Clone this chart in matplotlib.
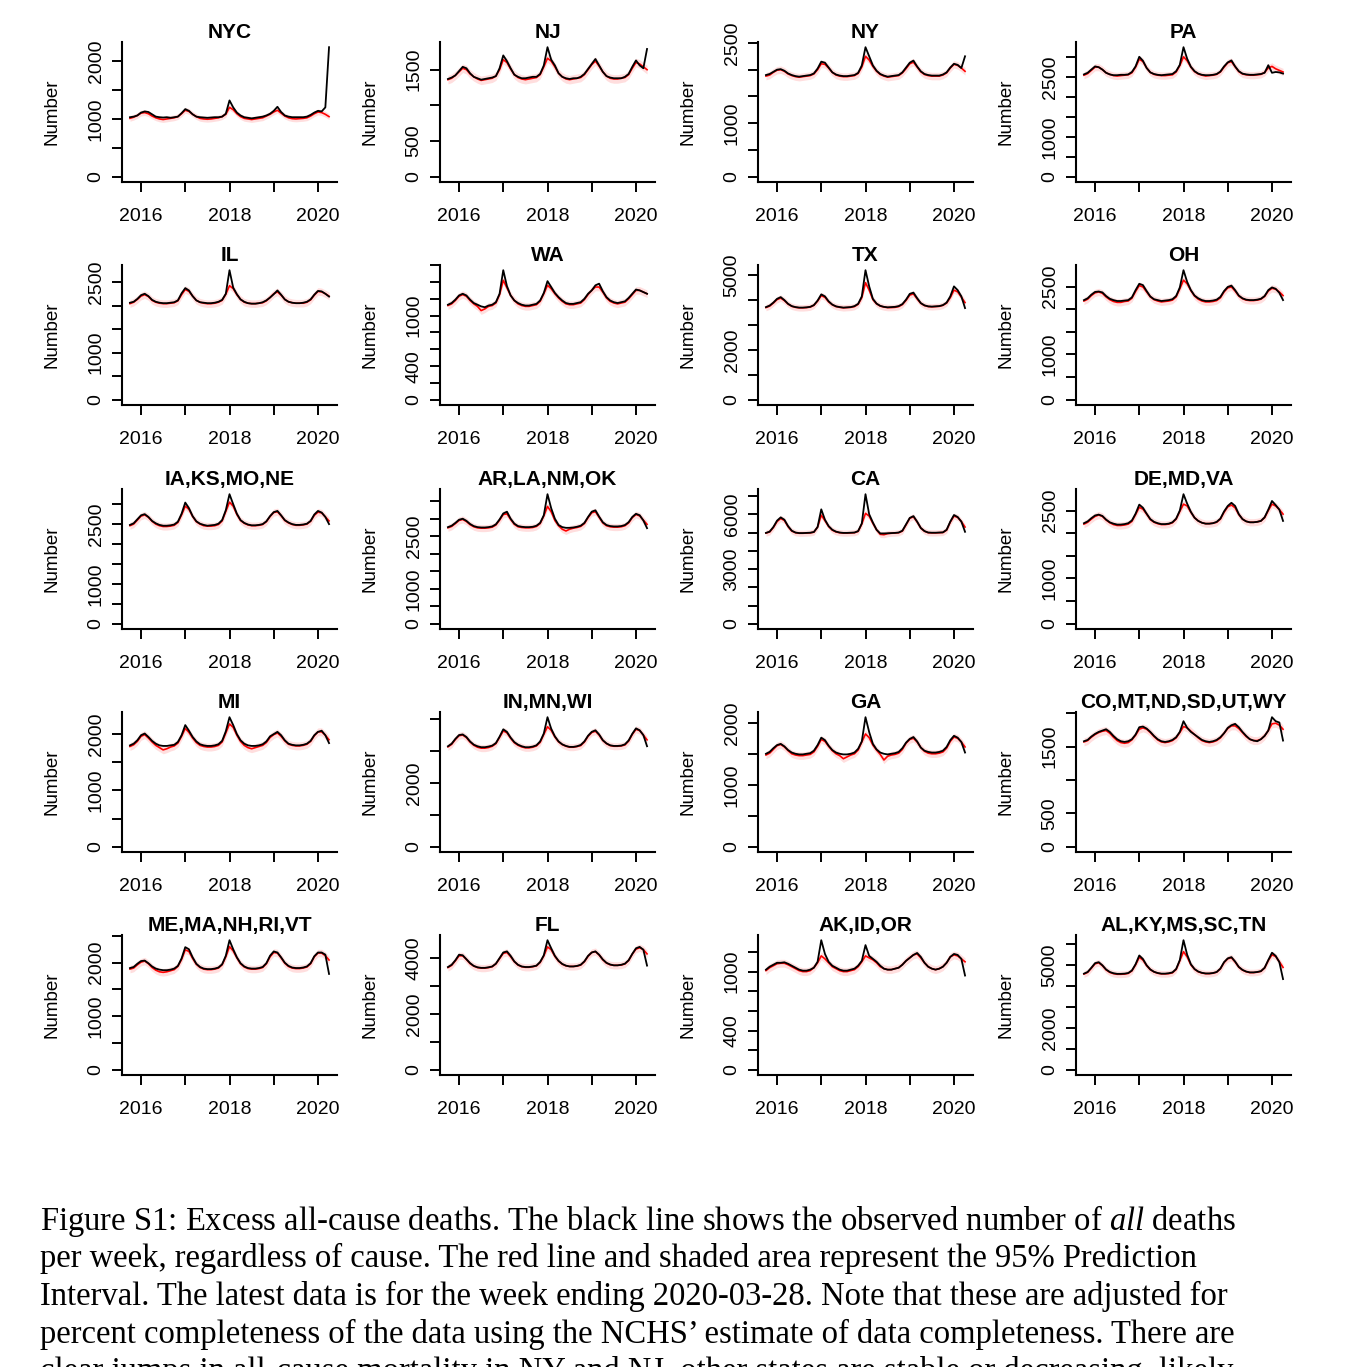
import matplotlib
matplotlib.use("Agg")
import matplotlib.pyplot as plt
import numpy as np
import pandas as pd

plt.rcParams['font.family'] = ['Liberation Sans', 'DejaVu Sans']
plt.rcParams['mathtext.fontset'] = 'custom'
plt.rcParams['mathtext.rm'] = 'Liberation Serif'
plt.rcParams['mathtext.it'] = 'Liberation Serif:italic'

# monthly points, Oct 2015 -> Apr 2020 (last = week ending 2020-03-28)
months = pd.date_range('2015-10-01', periods=55, freq='MS')
t = np.asarray(months.year + (months.month - 1) / 12.0)

# observed (black) and expected (red) deaths per week
nyc_obs = [1030, 1040, 1060, 1110, 1130, 1120, 1080, 1040, 1030, 1025, 1030, 1020,
           1030, 1040, 1100, 1170, 1140, 1080, 1040, 1030, 1025, 1020, 1025, 1030,
           1030, 1040, 1090, 1320, 1200, 1110, 1060, 1030, 1020, 1010, 1020, 1030,
           1040, 1060, 1090, 1140, 1210, 1120, 1060, 1040, 1030, 1030, 1030, 1030,
           1040, 1070, 1110, 1140, 1130, 1200, 2240]
nyc_exp = [1010, 1030, 1060, 1100, 1110, 1090, 1050, 1020, 1000, 990, 1000, 1010,
           1020, 1040, 1090, 1150, 1130, 1080, 1040, 1010, 1000, 995, 1000, 1010,
           1020, 1040, 1080, 1200, 1160, 1090, 1040, 1010, 1000, 990, 1000, 1010,
           1020, 1050, 1080, 1120, 1150, 1100, 1050, 1020, 1005, 1000, 1005, 1010,
           1020, 1050, 1090, 1120, 1110, 1080, 1040]

nj_obs = [1370, 1390, 1420, 1480, 1540, 1520, 1450, 1400, 1380, 1360, 1370, 1380,
          1390, 1410, 1520, 1700, 1620, 1520, 1430, 1400, 1380, 1380, 1390, 1400,
          1400, 1440, 1560, 1815, 1640, 1560, 1450, 1400, 1380, 1370, 1380, 1380,
          1400, 1440, 1510, 1580, 1650, 1560, 1470, 1410, 1390, 1380, 1380, 1380,
          1400, 1440, 1540, 1630, 1560, 1520, 1790]
nj_exp = [1360, 1380, 1420, 1470, 1520, 1500, 1440, 1400, 1370, 1350, 1360, 1370,
          1380, 1410, 1500, 1640, 1600, 1510, 1430, 1390, 1370, 1360, 1370, 1380,
          1390, 1430, 1540, 1660, 1620, 1540, 1450, 1400, 1370, 1360, 1370, 1380,
          1390, 1430, 1500, 1570, 1620, 1550, 1470, 1410, 1380, 1370, 1370, 1380,
          1390, 1430, 1520, 1600, 1580, 1540, 1500]

ny_obs = [1900, 1920, 1960, 2000, 2010, 1980, 1930, 1900, 1880, 1870, 1880, 1890,
          1900, 1930, 2020, 2150, 2130, 2040, 1950, 1910, 1890, 1880, 1880, 1890,
          1900, 1940, 2080, 2420, 2250, 2080, 1980, 1920, 1890, 1870, 1880, 1890,
          1900, 1950, 2040, 2130, 2170, 2060, 1970, 1920, 1900, 1890, 1890, 1890,
          1910, 1950, 2040, 2110, 2090, 2030, 2250]
ny_exp = [1880, 1900, 1950, 1990, 2000, 1970, 1920, 1890, 1870, 1860, 1870, 1880,
          1890, 1920, 2000, 2110, 2100, 2030, 1950, 1900, 1880, 1870, 1870, 1880,
          1890, 1930, 2050, 2250, 2180, 2060, 1970, 1910, 1880, 1860, 1870, 1880,
          1890, 1940, 2020, 2110, 2140, 2050, 1960, 1910, 1890, 1880, 1880, 1880,
          1900, 1940, 2030, 2100, 2080, 2030, 1970]

pa_obs = [2560, 2600, 2680, 2760, 2740, 2680, 2600, 2560, 2540, 2540, 2550, 2550,
          2560, 2620, 2760, 3000, 2900, 2720, 2610, 2570, 2550, 2540, 2550, 2560,
          2570, 2640, 2800, 3240, 2950, 2750, 2640, 2580, 2550, 2540, 2540, 2550,
          2570, 2630, 2760, 2860, 2910, 2760, 2640, 2580, 2560, 2550, 2550, 2560,
          2570, 2600, 2790, 2600, 2620, 2610, 2580]
pa_exp = [2540, 2580, 2660, 2740, 2740, 2680, 2600, 2560, 2530, 2520, 2530, 2540,
          2550, 2600, 2740, 2940, 2880, 2720, 2610, 2560, 2540, 2530, 2530, 2540,
          2550, 2620, 2780, 3000, 2900, 2740, 2630, 2570, 2540, 2520, 2530, 2540,
          2560, 2620, 2740, 2850, 2880, 2750, 2630, 2570, 2550, 2540, 2540, 2550,
          2560, 2610, 2720, 2760, 2700, 2660, 2620]

il_obs = [2060, 2080, 2140, 2220, 2250, 2200, 2120, 2080, 2060, 2050, 2050, 2060,
          2070, 2110, 2260, 2370, 2320, 2200, 2110, 2070, 2060, 2050, 2050, 2060,
          2080, 2120, 2250, 2750, 2380, 2240, 2130, 2080, 2050, 2040, 2040, 2050,
          2070, 2110, 2170, 2240, 2320, 2230, 2130, 2080, 2060, 2050, 2050, 2060,
          2080, 2130, 2230, 2310, 2300, 2250, 2190]
il_exp = [2040, 2070, 2130, 2200, 2230, 2190, 2110, 2070, 2050, 2040, 2040, 2050,
          2060, 2100, 2230, 2340, 2300, 2200, 2110, 2070, 2050, 2040, 2040, 2050,
          2070, 2110, 2240, 2420, 2360, 2230, 2130, 2070, 2050, 2040, 2040, 2050,
          2060, 2100, 2170, 2250, 2290, 2220, 2130, 2080, 2060, 2050, 2050, 2050,
          2070, 2120, 2220, 2300, 2290, 2250, 2200]

wa_obs = [1130, 1150, 1190, 1240, 1260, 1240, 1190, 1150, 1130, 1110, 1100, 1120,
          1130, 1160, 1260, 1540, 1350, 1240, 1180, 1150, 1130, 1120, 1120, 1130,
          1140, 1180, 1270, 1410, 1340, 1270, 1220, 1180, 1150, 1140, 1140, 1150,
          1160, 1200, 1260, 1300, 1360, 1380, 1290, 1220, 1180, 1160, 1150, 1160,
          1170, 1210, 1260, 1310, 1300, 1280, 1260]
wa_exp = [1120, 1140, 1180, 1230, 1250, 1230, 1180, 1140, 1110, 1060, 1080, 1110,
          1120, 1150, 1250, 1420, 1330, 1240, 1180, 1140, 1120, 1110, 1110, 1120,
          1130, 1170, 1260, 1360, 1320, 1260, 1210, 1170, 1140, 1130, 1130, 1140,
          1150, 1190, 1250, 1300, 1340, 1340, 1280, 1210, 1170, 1150, 1140, 1150,
          1160, 1200, 1250, 1300, 1300, 1280, 1260]

tx_obs = [3720, 3780, 3900, 4050, 4120, 4000, 3850, 3760, 3720, 3700, 3700, 3710,
          3730, 3800, 3980, 4230, 4150, 3950, 3820, 3750, 3720, 3700, 3710, 3720,
          3760, 3850, 4150, 5200, 4550, 4050, 3860, 3770, 3730, 3710, 3720, 3730,
          3760, 3840, 4020, 4250, 4300, 4080, 3880, 3790, 3750, 3740, 3750, 3760,
          3800, 3900, 4150, 4550, 4400, 4150, 3680]
tx_exp = [3700, 3760, 3880, 4020, 4080, 3980, 3840, 3750, 3710, 3690, 3690, 3700,
          3720, 3790, 3960, 4180, 4110, 3930, 3810, 3740, 3710, 3690, 3700, 3710,
          3740, 3830, 4100, 4700, 4400, 4020, 3850, 3760, 3720, 3700, 3700, 3710,
          3740, 3820, 3990, 4200, 4250, 4050, 3870, 3780, 3740, 3730, 3740, 3750,
          3790, 3880, 4100, 4400, 4330, 4120, 3900]

oh_obs = [2200, 2240, 2320, 2380, 2390, 2370, 2290, 2230, 2200, 2180, 2180, 2190,
          2200, 2260, 2420, 2560, 2530, 2400, 2280, 2220, 2200, 2180, 2190, 2200,
          2220, 2290, 2480, 2860, 2600, 2420, 2300, 2240, 2200, 2180, 2180, 2190,
          2210, 2270, 2400, 2490, 2520, 2420, 2300, 2240, 2210, 2200, 2200, 2210,
          2230, 2290, 2420, 2480, 2450, 2360, 2200]
oh_exp = [2180, 2220, 2300, 2360, 2380, 2350, 2270, 2210, 2170, 2150, 2150, 2170,
          2180, 2240, 2390, 2520, 2490, 2380, 2270, 2210, 2180, 2160, 2170, 2180,
          2200, 2270, 2450, 2640, 2560, 2410, 2290, 2220, 2180, 2160, 2160, 2170,
          2190, 2250, 2380, 2470, 2490, 2400, 2290, 2230, 2200, 2190, 2190, 2200,
          2220, 2280, 2400, 2460, 2440, 2380, 2300]

ia_obs = [2480, 2520, 2620, 2720, 2750, 2680, 2580, 2520, 2480, 2460, 2460, 2470,
          2490, 2560, 2760, 3040, 2900, 2700, 2570, 2510, 2480, 2460, 2470, 2480,
          2510, 2600, 2850, 3250, 3000, 2760, 2600, 2530, 2490, 2470, 2470, 2480,
          2500, 2570, 2700, 2800, 2830, 2720, 2600, 2540, 2500, 2480, 2480, 2490,
          2510, 2580, 2740, 2830, 2790, 2680, 2500]
ia_exp = [2460, 2500, 2600, 2700, 2730, 2670, 2570, 2500, 2460, 2440, 2440, 2450,
          2470, 2540, 2730, 2950, 2870, 2690, 2560, 2500, 2460, 2450, 2450, 2460,
          2490, 2580, 2820, 3050, 2950, 2740, 2590, 2520, 2480, 2460, 2460, 2470,
          2490, 2560, 2690, 2790, 2810, 2710, 2590, 2530, 2490, 2470, 2470, 2480,
          2500, 2570, 2720, 2800, 2780, 2680, 2580]

ar_obs = [2760, 2800, 2880, 2970, 3000, 2940, 2850, 2790, 2760, 2750, 2750, 2760,
          2780, 2840, 2980, 3150, 3200, 3000, 2860, 2790, 2770, 2760, 2760, 2770,
          2800, 2880, 3100, 3700, 3300, 3000, 2820, 2760, 2740, 2740, 2750, 2770,
          2800, 2880, 3050, 3200, 3240, 3060, 2900, 2820, 2790, 2780, 2780, 2790,
          2820, 2900, 3050, 3140, 3100, 2950, 2730]
ar_exp = [2740, 2780, 2860, 2950, 2980, 2920, 2830, 2770, 2740, 2730, 2730, 2740,
          2760, 2820, 2960, 3120, 3140, 2980, 2840, 2770, 2750, 2740, 2740, 2750,
          2780, 2860, 3080, 3350, 3200, 2950, 2800, 2700, 2650, 2700, 2730, 2750,
          2780, 2860, 3030, 3170, 3200, 3040, 2880, 2800, 2770, 2760, 2760, 2770,
          2800, 2880, 3030, 3120, 3080, 2960, 2840]

ca_obs = [4980, 5050, 5300, 5650, 5830, 5700, 5350, 5100, 5000, 4970, 4970, 4980,
          4990, 5030, 5300, 6270, 5700, 5350, 5150, 5050, 5000, 4980, 4980, 4990,
          5000, 5080, 5500, 7100, 6000, 5550, 5150, 4950, 4950, 4960, 4970, 4980,
          5000, 5100, 5450, 5800, 5900, 5600, 5250, 5080, 5000, 4990, 4990, 5000,
          5010, 5150, 5600, 5960, 5850, 5600, 5040]
ca_exp = [4970, 5030, 5270, 5600, 5770, 5660, 5320, 5080, 4990, 4960, 4960, 4970,
          4980, 5020, 5300, 5950, 5650, 5330, 5130, 5030, 4990, 4970, 4970, 4980,
          4990, 5060, 5470, 6050, 5900, 5500, 5150, 4900, 4880, 4940, 4960, 4970,
          4990, 5080, 5420, 5780, 5860, 5580, 5240, 5070, 4990, 4980, 4980, 4990,
          5000, 5130, 5570, 5900, 5830, 5600, 5300]

de_obs = [2220, 2260, 2330, 2390, 2410, 2380, 2300, 2240, 2210, 2190, 2190, 2200,
          2220, 2280, 2430, 2630, 2560, 2430, 2310, 2250, 2220, 2200, 2200, 2210,
          2240, 2320, 2500, 2860, 2650, 2470, 2340, 2270, 2230, 2210, 2210, 2220,
          2250, 2320, 2480, 2600, 2670, 2600, 2420, 2310, 2260, 2240, 2240, 2250,
          2270, 2350, 2520, 2710, 2620, 2520, 2270]
de_exp = [2200, 2240, 2310, 2370, 2400, 2370, 2290, 2230, 2190, 2170, 2170, 2180,
          2200, 2260, 2410, 2570, 2530, 2420, 2300, 2240, 2210, 2190, 2190, 2200,
          2230, 2310, 2480, 2640, 2600, 2460, 2340, 2270, 2230, 2210, 2210, 2220,
          2240, 2310, 2460, 2580, 2620, 2560, 2410, 2310, 2260, 2240, 2240, 2250,
          2270, 2340, 2500, 2640, 2600, 2520, 2420]

mi_obs = [1800, 1830, 1890, 1980, 2010, 1950, 1880, 1830, 1800, 1790, 1790, 1800,
          1810, 1860, 1980, 2160, 2060, 1950, 1870, 1820, 1800, 1790, 1790, 1800,
          1820, 1880, 2050, 2300, 2160, 2000, 1890, 1830, 1800, 1790, 1790, 1800,
          1820, 1870, 1960, 2000, 2040, 1980, 1890, 1830, 1810, 1800, 1800, 1810,
          1830, 1880, 1980, 2040, 2060, 1980, 1840]
mi_exp = [1780, 1810, 1870, 1960, 1990, 1930, 1860, 1800, 1760, 1720, 1740, 1770,
          1790, 1840, 1960, 2100, 2030, 1930, 1850, 1800, 1780, 1770, 1770, 1780,
          1800, 1860, 2020, 2180, 2120, 1980, 1870, 1800, 1760, 1740, 1760, 1780,
          1800, 1850, 1940, 1990, 2020, 1960, 1880, 1820, 1800, 1790, 1790, 1800,
          1820, 1870, 1970, 2040, 2040, 1980, 1900]

in_obs = [3150, 3230, 3380, 3500, 3520, 3440, 3300, 3200, 3150, 3120, 3120, 3140,
          3170, 3250, 3450, 3680, 3600, 3420, 3280, 3200, 3150, 3120, 3120, 3140,
          3180, 3300, 3550, 4060, 3700, 3460, 3300, 3210, 3160, 3130, 3130, 3150,
          3190, 3300, 3480, 3600, 3650, 3520, 3340, 3240, 3180, 3160, 3160, 3170,
          3210, 3330, 3540, 3710, 3650, 3500, 3150]
in_exp = [3130, 3210, 3360, 3480, 3500, 3420, 3280, 3180, 3120, 3090, 3090, 3110,
          3150, 3230, 3430, 3630, 3570, 3400, 3260, 3180, 3130, 3100, 3100, 3120,
          3160, 3270, 3520, 3760, 3650, 3440, 3290, 3200, 3150, 3120, 3120, 3140,
          3170, 3280, 3460, 3580, 3620, 3500, 3330, 3230, 3170, 3150, 3150, 3160,
          3190, 3310, 3520, 3680, 3640, 3500, 3350]

ga_obs = [1500, 1530, 1590, 1640, 1660, 1620, 1560, 1520, 1500, 1490, 1490, 1500,
          1510, 1550, 1640, 1760, 1720, 1630, 1560, 1520, 1500, 1490, 1490, 1500,
          1520, 1580, 1700, 2090, 1850, 1660, 1570, 1520, 1500, 1490, 1500, 1510,
          1530, 1590, 1680, 1740, 1770, 1700, 1600, 1550, 1530, 1520, 1520, 1530,
          1550, 1610, 1720, 1790, 1760, 1690, 1520]
ga_exp = [1480, 1510, 1570, 1630, 1650, 1610, 1550, 1500, 1480, 1470, 1470, 1480,
          1490, 1530, 1620, 1730, 1700, 1620, 1550, 1500, 1470, 1420, 1450, 1480,
          1500, 1560, 1690, 1820, 1760, 1640, 1560, 1490, 1400, 1460, 1480, 1490,
          1510, 1570, 1670, 1730, 1750, 1690, 1600, 1540, 1510, 1500, 1500, 1510,
          1530, 1590, 1700, 1770, 1750, 1690, 1610]

co_obs = [1580, 1600, 1650, 1690, 1720, 1740, 1760, 1720, 1660, 1610, 1580, 1570,
          1580, 1610, 1680, 1790, 1800, 1770, 1720, 1660, 1610, 1580, 1570, 1580,
          1600, 1640, 1720, 1880, 1780, 1720, 1680, 1640, 1600, 1580, 1570, 1580,
          1600, 1640, 1700, 1780, 1820, 1840, 1790, 1720, 1660, 1610, 1590, 1580,
          1610, 1660, 1740, 1940, 1880, 1860, 1590]
co_exp = [1570, 1590, 1640, 1680, 1710, 1730, 1740, 1700, 1640, 1590, 1560, 1550,
          1560, 1600, 1670, 1760, 1780, 1760, 1710, 1650, 1600, 1570, 1560, 1570,
          1590, 1630, 1710, 1800, 1780, 1730, 1680, 1630, 1590, 1570, 1560, 1570,
          1590, 1630, 1700, 1770, 1810, 1810, 1770, 1710, 1650, 1610, 1590, 1590,
          1610, 1660, 1740, 1840, 1850, 1820, 1760]

me_obs = [1900, 1920, 1980, 2030, 2040, 1990, 1930, 1890, 1870, 1860, 1860, 1870,
          1890, 1940, 2080, 2290, 2250, 2100, 1980, 1920, 1890, 1880, 1880, 1890,
          1910, 1970, 2130, 2420, 2250, 2100, 1990, 1930, 1900, 1890, 1890, 1900,
          1920, 1990, 2130, 2210, 2190, 2100, 2000, 1940, 1910, 1900, 1900, 1910,
          1930, 1990, 2120, 2190, 2190, 2150, 1790]
me_exp = [1880, 1900, 1960, 2010, 2030, 1980, 1910, 1860, 1830, 1820, 1830, 1850,
          1870, 1930, 2060, 2240, 2210, 2080, 1970, 1910, 1880, 1870, 1870, 1880,
          1900, 1960, 2110, 2300, 2220, 2090, 1980, 1920, 1890, 1880, 1880, 1890,
          1910, 1980, 2110, 2190, 2180, 2090, 1990, 1930, 1900, 1890, 1890, 1900,
          1920, 1980, 2110, 2180, 2180, 2130, 2050]

fl_obs = [3680, 3760, 3920, 4120, 4100, 3960, 3820, 3720, 3670, 3650, 3650, 3670,
          3700, 3800, 4000, 4200, 4240, 4080, 3880, 3760, 3700, 3680, 3680, 3700,
          3730, 3860, 4100, 4640, 4350, 4080, 3900, 3790, 3730, 3700, 3700, 3720,
          3760, 3880, 4080, 4200, 4240, 4120, 3950, 3830, 3770, 3740, 3740, 3760,
          3800, 3920, 4150, 4350, 4400, 4300, 3730]
fl_exp = [3660, 3740, 3900, 4080, 4080, 3950, 3800, 3710, 3660, 3640, 3640, 3660,
          3690, 3790, 3980, 4170, 4200, 4050, 3870, 3750, 3690, 3670, 3670, 3690,
          3720, 3840, 4080, 4400, 4300, 4060, 3890, 3780, 3720, 3700, 3700, 3710,
          3750, 3870, 4060, 4200, 4230, 4110, 3940, 3820, 3760, 3740, 3740, 3750,
          3790, 3910, 4140, 4320, 4370, 4300, 4150]

ak_obs = [1020, 1050, 1070, 1090, 1090, 1095, 1080, 1060, 1040, 1020, 1010, 1010,
          1020, 1040, 1100, 1320, 1180, 1100, 1060, 1040, 1020, 1010, 1010, 1020,
          1030, 1060, 1110, 1270, 1160, 1130, 1100, 1060, 1030, 1020, 1020, 1030,
          1040, 1070, 1110, 1140, 1170, 1190, 1150, 1090, 1050, 1030, 1020, 1030,
          1050, 1090, 1150, 1180, 1170, 1130, 960]
ak_exp = [1010, 1040, 1060, 1080, 1085, 1085, 1070, 1050, 1030, 1010, 1000, 1000,
          1010, 1040, 1090, 1160, 1130, 1090, 1050, 1030, 1010, 1000, 1000, 1010,
          1020, 1050, 1100, 1160, 1140, 1120, 1090, 1050, 1030, 1020, 1020, 1030,
          1040, 1070, 1110, 1140, 1170, 1180, 1140, 1090, 1050, 1030, 1020, 1030,
          1050, 1090, 1150, 1170, 1160, 1130, 1100]

al_obs = [4600, 4680, 4880, 5100, 5150, 5000, 4800, 4680, 4620, 4590, 4590, 4600,
          4630, 4750, 5050, 5470, 5300, 5000, 4800, 4690, 4630, 4600, 4600, 4620,
          4660, 4820, 5250, 6200, 5500, 5050, 4820, 4700, 4640, 4610, 4610, 4630,
          4680, 4840, 5150, 5330, 5390, 5180, 4920, 4780, 4700, 4660, 4660, 4680,
          4720, 4880, 5250, 5600, 5450, 5150, 4340]
al_exp = [4580, 4660, 4860, 5070, 5120, 4980, 4780, 4660, 4600, 4570, 4570, 4580,
          4610, 4730, 5020, 5380, 5250, 4980, 4790, 4680, 4620, 4590, 4590, 4600,
          4640, 4800, 5220, 5650, 5400, 5020, 4810, 4690, 4630, 4600, 4600, 4620,
          4670, 4830, 5130, 5310, 5360, 5160, 4910, 4770, 4690, 4650, 4650, 4670,
          4710, 4870, 5230, 5500, 5420, 5170, 4900]

titles = ['NYC', 'NJ', 'NY', 'PA',
          'IL', 'WA', 'TX', 'OH',
          'IA,KS,MO,NE', 'AR,LA,NM,OK', 'CA', 'DE,MD,VA',
          'MI', 'IN,MN,WI', 'GA', 'CO,MT,ND,SD,UT,WY',
          'ME,MA,NH,RI,VT', 'FL', 'AK,ID,OR', 'AL,KY,MS,SC,TN']
observed = [nyc_obs, nj_obs, ny_obs, pa_obs, il_obs, wa_obs, tx_obs, oh_obs,
            ia_obs, ar_obs, ca_obs, de_obs, mi_obs, in_obs, ga_obs, co_obs,
            me_obs, fl_obs, ak_obs, al_obs]
expected = [nyc_exp, nj_exp, ny_exp, pa_exp, il_exp, wa_exp, tx_exp, oh_exp,
            ia_exp, ar_exp, ca_exp, de_exp, mi_exp, in_exp, ga_exp, co_exp,
            me_exp, fl_exp, ak_exp, al_exp]
# half width of the 95% prediction interval
pi_half = [50, 60, 70, 90, 80, 45, 130, 80,
           90, 100, 170, 80, 70, 110, 60, 60,
           70, 130, 40, 160]
ytick_step = [500, 500, 500, 500, 500, 200, 1000, 500,
              500, 500, 1000, 500, 500, 1000, 500, 500,
              500, 1000, 200, 1000]
ytick_shown = [[0, 1000, 2000], [0, 500, 1500], [0, 1000, 2500], [0, 1000, 2500],
               [0, 1000, 2500], [0, 400, 1000], [0, 2000, 5000], [0, 1000, 2500],
               [0, 1000, 2500], [0, 1000, 2500], [0, 3000, 6000], [0, 1000, 2500],
               [0, 1000, 2000], [0, 2000], [0, 1000, 2000], [0, 500, 1500],
               [0, 1000, 2000], [0, 2000, 4000], [0, 400, 1000], [0, 2000, 5000]]
year_ticks = [2016, 2017, 2018, 2019, 2020]
year_shown = [2016, 2018, 2020]

caption = [
    r"Figure S1: Excess all-cause deaths. The black line shows the observed number of $\mathit{all}$ deaths",
    "per week, regardless of cause. The red line and shaded area represent the 95% Prediction",
    "Interval. The latest data is for the week ending 2020-03-28. Note that these are adjusted for",
    "percent completeness of the data using the NCHS\u2019 estimate of data completeness. There are",
    "clear jumps in all-cause mortality in NY and NJ, other states are stable or decreasing, likely",
]

W, H = 1372, 1367
fig = plt.figure(figsize=(W / 100, H / 100), dpi=100)
col_left = [122, 440, 758, 1076]
row_top = [42, 265, 489, 712, 935]
ax_w, ax_h = 215, 140

for i, title in enumerate(titles):
    r, c = divmod(i, 4)
    ax = fig.add_axes([col_left[c] / W, 1 - (row_top[r] + ax_h) / H, ax_w / W, ax_h / H])
    obs = np.array(observed[i], dtype=float)
    exp = np.array(expected[i], dtype=float)
    hw = pi_half[i]
    ax.fill_between(t, exp - hw, exp + hw, color='#ffd0d0', lw=0, alpha=0.7)
    ax.plot(t, exp, color='red', lw=1.2)
    ax.plot(t, obs, color='black', lw=1.3)

    top = max(obs.max(), (exp + hw).max())
    ax.set_ylim(-0.04 * top, 1.04 * top)
    span = t[-1] - t[0]
    ax.set_xlim(t[0] - 0.04 * span, t[-1] + 0.04 * span)

    yt = np.arange(0, 1.04 * top + 1, ytick_step[i])
    ax.set_yticks(yt)
    ax.set_yticklabels([str(int(v)) if int(v) in ytick_shown[i] else '' for v in yt],
                       rotation=90, va='center')
    ax.set_xticks(year_ticks)
    ax.set_xticklabels([str(y) if y in year_shown else '' for y in year_ticks])

    for s in ['top', 'right']:
        ax.spines[s].set_visible(False)
    for s in ['left', 'bottom']:
        ax.spines[s].set_linewidth(1.5)
    ax.tick_params(axis='both', direction='out', length=7.5, width=1.4, labelsize=14)
    ax.tick_params(axis='x', pad=11.5)
    ax.tick_params(axis='y', pad=5)

    ax.set_title(title, fontsize=15, fontweight='bold', pad=-3.5)
    ax.text(-0.326, 0.5, 'Number', transform=ax.transAxes, rotation=90,
            ha='center', va='center', fontsize=13.5)

for k, line in enumerate(caption):
    fig.text(40 / W, 1 - (1230 + 37.5 * k) / H, line, va='baseline', ha='left',
             family='Liberation Serif', fontsize=23.5)

fig.savefig('out.png', dpi=100)
